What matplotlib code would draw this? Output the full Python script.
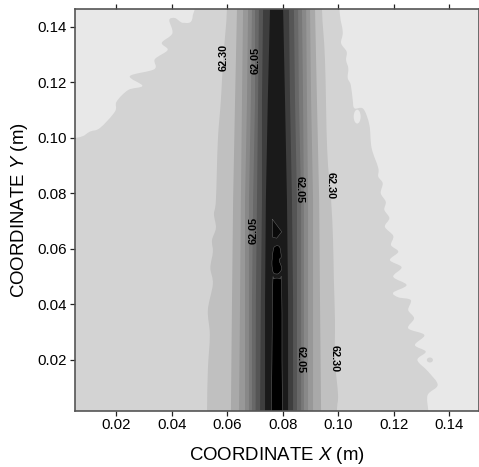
import numpy as np
import matplotlib
matplotlib.use("Agg")
import matplotlib.pyplot as plt
from matplotlib.patches import Ellipse, PathPatch
from matplotlib.path import Path

plt.rcParams['font.family'] = ['Liberation Sans', 'DejaVu Sans']
plt.rcParams['mathtext.fontset'] = 'custom'
plt.rcParams['mathtext.rm'] = 'Liberation Sans'
plt.rcParams['mathtext.it'] = 'Liberation Sans:italic'

# Outermost contour (lightest region), left and right of the channel
left0_x = [-0.01, 0.0454, 0.0475, 0.0441, 0.0412, 0.0391, 0.0402, 0.0364, 0.0385, 0.0339, 0.0337,
           0.0249, 0.0294, 0.0243, 0.0201, 0.0195, 0.0141, 0.0105, 0.0057, -0.01]
left0_y = [0.16, 0.16, 0.1437, 0.1415, 0.1432, 0.1425, 0.1377, 0.1343, 0.1317, 0.1284, 0.1248,
           0.1223, 0.1188, 0.1173, 0.1131, 0.1095, 0.1036, 0.1023, 0.1001, 0.0995]
right0_x = [0.1004, 0.1016, 0.1010, 0.1030, 0.1028, 0.1036, 0.1034, 0.1045, 0.1052, 0.1058, 0.1090,
            0.1112, 0.1120, 0.1144, 0.1144, 0.1160, 0.1153, 0.1171, 0.1166, 0.1184, 0.1168, 0.1198,
            0.1190, 0.1216, 0.1186, 0.1228, 0.1198, 0.1246, 0.1198, 0.1216, 0.1261, 0.1252, 0.1273,
            0.1252, 0.1310, 0.1276, 0.1315, 0.1285, 0.1324, 0.1358, 0.1322, 0.1324, 0.1324]
right0_y = [0.1470, 0.1383, 0.1342, 0.1311, 0.1281, 0.1251, 0.1216, 0.1191, 0.1137, 0.1107, 0.1105,
            0.1047, 0.0964, 0.0892, 0.0861, 0.0837, 0.0801, 0.0770, 0.0741, 0.0711, 0.0680, 0.0647,
            0.0614, 0.0590, 0.0560, 0.0534, 0.0500, 0.0470, 0.0443, 0.0426, 0.0416, 0.0380, 0.0350,
            0.0314, 0.0290, 0.0254, 0.0230, 0.0200, 0.0158, 0.0110, 0.0074, 0.0020, 0.0010]
outer_right_x = [0.1324, 0.17, 0.17, 0.1004]
outer_right_y = [-0.02, -0.02, 0.17, 0.17]

# Level-one contour (the 62.30 line), read with its small ripples
left1_y = [0.17, 0.147, 0.1281, 0.1137, 0.0992, 0.0777, 0.0726, 0.0676, 0.0632, 0.0589, 0.0532,
           0.0474, 0.0380, 0.0290, 0.0164, 0.001, -0.02]
left1_x = [0.0600, 0.0599, 0.0585, 0.0577, 0.0566, 0.0559, 0.0552, 0.0559, 0.0545, 0.0548, 0.0539,
           0.0548, 0.0530, 0.0537, 0.0530, 0.0527, 0.0527]
right1_y = [0.17, 0.147, 0.1281, 0.0956, 0.0777, 0.0632, 0.0488, 0.0344, 0.0200, 0.0074, 0.001, -0.02]
right1_x = [0.0940, 0.0941, 0.0952, 0.0960, 0.0974, 0.0981, 0.0984, 0.0988, 0.0988, 0.0999, 0.0995, 0.0995]

# Inner contours, x position at each of these heights
inner_y = [0.147, 0.1137, 0.0777, 0.0416, 0.001]
left2 = [0.0635, 0.0628, 0.0621, 0.0617, 0.0613]
left3 = [0.0657, 0.0653, 0.0649, 0.0646, 0.0642]
left4 = [0.0675, 0.0671, 0.0664, 0.0664, 0.0664]
left5 = [0.0689, 0.0685, 0.0678, 0.0678, 0.0678]
left6 = [0.0700, 0.0700, 0.0693, 0.0689, 0.0689]
left7 = [0.0714, 0.0711, 0.0707, 0.0703, 0.0702]
left8 = [0.0729, 0.0725, 0.0725, 0.0721, 0.0718]
left9 = [0.0754, 0.0746, 0.0739, 0.0736, 0.0736]
right9 = [0.0801, 0.0808, 0.0815, 0.0819, 0.0819]
right8 = [0.0822, 0.0826, 0.0833, 0.0837, 0.0837]
right7 = [0.0840, 0.0844, 0.0851, 0.0851, 0.0851]
right6 = [0.0855, 0.0858, 0.0866, 0.0866, 0.0866]
right5 = [0.0869, 0.0873, 0.0876, 0.0876, 0.0876]
right4 = [0.0884, 0.0887, 0.0891, 0.0891, 0.0891]
right3 = [0.0898, 0.0902, 0.0909, 0.0909, 0.0909]
right2 = [0.0916, 0.0923, 0.0931, 0.0934, 0.0938]

# Innermost (lowest value) closed regions
core_a_x = [0.0762, 0.0796, 0.0778, 0.0764]
core_a_y = [0.0708, 0.0662, 0.0639, 0.0642]
core_b_x = [0.0764, 0.0770, 0.0788, 0.0794, 0.0787, 0.0796, 0.0786, 0.0778, 0.0766, 0.0761]
core_b_y = [0.0585, 0.0608, 0.0608, 0.0572, 0.0560, 0.0530, 0.0513, 0.0510, 0.0515, 0.0545]
core_c_x = [0.0778, 0.0790, 0.0796, 0.0797, 0.0797, 0.0761, 0.0761, 0.0764, 0.0768]
core_c_y = [0.0495, 0.0492, 0.0475, 0.0200, -0.02, -0.02, 0.0200, 0.0475, 0.0492]

band_colors = ['#c0c0c0', '#a9a9a9', '#989898', '#888888', '#787878',
               '#686868', '#555555', '#3e3e3e', '#1a1a1a']
band_edges = [(left2, right2), (left3, right3), (left4, right4), (left5, right5), (left6, right6),
              (left7, right7), (left8, right8), (left9, right9)]

xticks = [0.02, 0.04, 0.06, 0.08, 0.10, 0.12, 0.14]
yticks = [0.02, 0.04, 0.06, 0.08, 0.10, 0.12, 0.14]
tick_labels = ['0.02', '0.04', '0.06', '0.08', '0.10', '0.12', '0.14']

contour_labels = [
    ('62.30', 0.0588, 0.1292, 90), ('62.05', 0.0702, 0.1278, 90), ('62.05', 0.0696, 0.0668, 90),
    ('62.05', 0.0862, 0.0813, 270), ('62.30', 0.0973, 0.0827, 270),
    ('62.05', 0.0865, 0.0200, 270), ('62.30', 0.0986, 0.0204, 270),
]


def smooth_region(ax, xs, ys, **kw):
    """Closed curve through every read point (Catmull-Rom as Bezier segments)."""
    p = np.column_stack([xs, ys])
    n = len(p)
    verts = [p[0]]
    codes = [Path.MOVETO]
    for i in range(n):
        p0, p1, p2, p3 = p[i - 1], p[i], p[(i + 1) % n], p[(i + 2) % n]
        verts += [p1 + (p2 - p0) / 6, p2 - (p3 - p1) / 6, p2]
        codes += [Path.CURVE4] * 3
    ax.add_patch(PathPatch(Path(verts, codes), **kw))


W, H = 479, 467
fig = plt.figure(figsize=(W / 100, H / 100), dpi=100)
ax = fig.add_axes([74.5 / W, 1 - 410.5 / H, (479 - 74.5) / W, (410.5 - 9.5) / H])
ax.set_facecolor('#d3d3d3')

smooth_region(ax, left0_x, left0_y, facecolor='#e8e8e8', lw=0)
smooth_region(ax, right0_x + outer_right_x, right0_y + outer_right_y, facecolor='#e8e8e8', lw=0)
ax.add_patch(Ellipse((0.1068, 0.1077), 0.0025, 0.0050, color='#e8e8e8', lw=0))
ax.add_patch(Ellipse((0.1330, 0.0200), 0.0022, 0.0018, color='#d3d3d3', lw=0))

smooth_region(ax, left1_x + right1_x[::-1], left1_y + right1_y[::-1], facecolor=band_colors[0], lw=0)
for (lft, rgt), col in zip(band_edges, band_colors[1:]):
    ax.fill(lft + rgt[::-1], inner_y + inner_y[::-1], color=col, lw=0)
ax.fill(core_a_x, core_a_y, facecolor='#0a0a0a', edgecolor='#777777', lw=0.3)
for cx, cy in [(core_b_x, core_b_y), (core_c_x, core_c_y)]:
    smooth_region(ax, cx, cy, facecolor='#000000', edgecolor='#777777', lw=0.3)

for txt, x, y, rot in contour_labels:
    ax.text(x, y, txt, rotation=rot, ha='center', va='center', fontsize=7.8,
            fontweight='bold', color='black')

ax.set_xlim(0.00494, 0.1507)
ax.set_ylim(0.0018, 0.1463)
ax.set_xticks(xticks, tick_labels)
ax.set_yticks(yticks, tick_labels)
ax.tick_params(axis='both', which='both', direction='out', length=3.5, width=0.9,
               labelsize=10.8, top=True, right=True, color='#222222', pad=2)
for s in ax.spines.values():
    s.set_color('#555555')
    s.set_linewidth(1.2)

fig.text(276.5 / W, 1 - 455.5 / H, r'COORDINATE $\mathit{X}$ (m)', ha='center', va='center', fontsize=13.4)
fig.text(20 / W, 1 - 210 / H, r'COORDINATE $\mathit{Y}$ (m)', ha='center', va='center', fontsize=13.4,
         rotation=90)

fig.savefig('out.png', dpi=100)
